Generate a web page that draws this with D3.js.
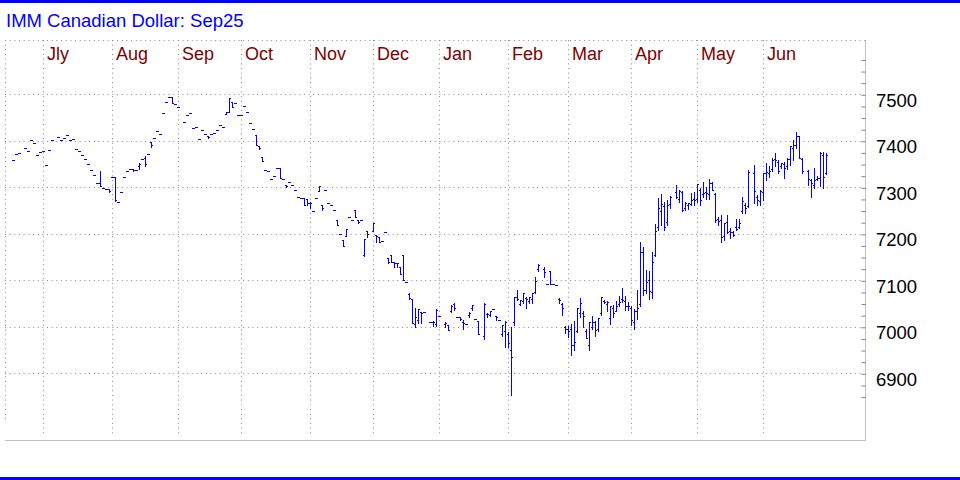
<!DOCTYPE html>
<html><head><meta charset="utf-8">
<script src="https://cdn.jsdelivr.net/npm/d3@7"></script>
<style>body{margin:0;background:#fff}svg{display:block}</style>
</head><body>
<script>
const title = "IMM Canadian Dollar: Sep25";
const startDate = "2024-06-14";   // first weekday shown; one slot per weekday, null = no trading
const monthLabels = ["Jly","Aug","Sep","Oct","Nov","Dec","Jan","Feb","Mar","Apr","May","Jun"];
const priceLabels = [6900,7000,7100,7200,7300,7400,7500];

const opens = [
7358,7371,7374,null,7384,7378,7401,7395,7369,7375,
7378,7347,7380,7401,null,7408,7401,7405,7412,7402,
7403,7382,7378,7369,7360,7350,7337,7326,7309,7309,
7298,7296,7296,7322,7322,7268,7290,7322,7335,7340,
7340,7337,7345,7360,7362,7372,7398,7405,7421,7415,
7459,7483,7494,7494,7479,7472,null,7440,7455,7459,
7427,7429,7403,7423,7415,7411,7415,7416,7423,7433,
7429,7458,7463,7483,7481,7455,7455,7475,7461,7438,
7425,7413,7389,7365,7337,7335,7318,7324,7341,7341,
7318,7306,7311,7305,7294,7279,7277,7277,7274,7267,
7248,7277,7293,7262,7294,7266,7261,7251,7230,7200,
7187,7196,7236,7230,7251,7230,7230,7155,7205,null,
7205,7198,7194,7184,7203,7149,7155,7140,7138,7128,
7155,7097,7070,7060,7005,7015,7032,7031,null,7010,
7010,7005,7024,null,7005,7004,7035,7050,7021,7021,
7010,7006,7025,7040,7017,7012,null,6980,7028,7025,
7038,7024,7015,6985,6990,6985,6950,7010,7065,7050,
7055,7062,7055,7060,7075,7125,null,7125,7093,7120,
7092,7090,7060,7050,7000,6995,6995,6960,6990,7030,
7030,6990,6960,7000,7010,6995,7030,7056,7050,7020,
7040,7035,7050,7060,7055,7045,7040,7010,7035,7050,
7160,7080,7100,7075,7155,7215,7250,7260,7225,7265,
null,7290,7275,7290,7255,7262,7265,7275,7275,7295,
7285,7290,7285,7310,7285,7232,7230,7195,7225,7205,
7203,7215,7215,7250,7262,7260,null,7330,7280,7270,
7290,7330,7330,7340,7360,7355,7345,7350,7345,7360,
7385,7390,7410,7360,null,7335,7315,7305,7318,7320,
7370,7330];

const highs = [
7358,7371,7374,null,7384,7378,7401,7395,7369,7375,
7378,7347,7380,7401,null,7408,7401,7405,7412,7402,
7403,7382,7378,7369,7360,7350,7337,7326,7309,7335,
7298,7296,7296,7322,7322,7268,7290,7322,7335,7340,
7340,7337,7352,7360,7368,7372,7398,7405,7421,7415,
7459,7483,7494,7494,7479,7472,null,7440,7455,7459,
7427,7429,7403,7423,7415,7411,7415,7416,7423,7433,
7429,7461,7491,7483,7481,7455,7455,7475,7461,7438,
7425,7413,7389,7365,7337,7335,7318,7324,7341,7341,
7318,7306,7311,7305,7294,7279,7277,7277,7274,7269,
7248,7277,7303,7262,7294,7266,7261,7251,7230,7200,
7187,7210,7236,7230,7251,7230,7230,7188,7205,null,
7223,7198,7194,7184,7203,7149,7155,7140,7138,7128,
7155,7097,7073,7060,7040,7038,7032,7031,null,7010,
7012,7038,7024,null,7010,7004,7047,7051,7021,7021,
7015,7006,7032,7047,7017,7012,null,7051,7030,7033,
7038,7024,7015,7004,7012,6988,7000,7064,7079,7058,
7073,7065,7065,7073,7108,7135,null,7128,7093,7120,
7092,7090,7062,7052,7002,7002,7006,7013,7040,7062,
7033,6995,7010,7024,7013,7018,7064,7057,7055,7044,
7047,7056,7067,7083,7067,7054,7044,7038,7079,7183,
7172,7122,7121,7161,7222,7276,7285,7269,7273,7281,
null,7305,7294,7293,7268,7267,7287,7290,7308,7298,
7312,7301,7317,7312,7287,7237,7241,7224,7241,7212,
7205,7232,7232,7280,7266,7338,null,7348,7284,7295,
7330,7352,7345,7363,7373,7359,7353,7355,7363,7388,
7401,7420,7411,7363,null,7338,7317,7341,7325,7376,
7375,7373];

const lows = [
7358,7371,7374,null,7384,7378,7401,7395,7369,7375,
7378,7347,7380,7401,null,7408,7401,7405,7412,7402,
7403,7382,7378,7369,7360,7350,7337,7326,7309,7302,
7298,7296,7289,7322,7271,7268,7290,7322,7335,7340,
7334,7337,7339,7360,7345,7372,7387,7405,7421,7415,
7459,7483,7494,7481,7479,7472,null,7440,7455,7459,
7427,7429,7403,7423,7415,7405,7415,7416,7423,7433,
7429,7458,7463,7472,7481,7455,7455,7475,7461,7438,
7425,7391,7382,7357,7337,7335,7318,7324,7341,7321,
7318,7300,7311,7305,7294,7279,7277,7262,7262,7256,
7248,7277,7293,7251,7294,7266,7261,7251,7219,7200,
7173,7196,7236,7230,7236,7224,7230,7153,7194,null,
7205,7182,7182,7184,7203,7138,7140,7128,7128,7113,
7101,7097,7060,7009,7000,7009,7009,7031,null,7010,
7002,7002,7024,null,6999,6994,7032,7037,7021,7015,
6995,7006,7022,7037,7017,6984,null,6973,7021,7024,
7038,7015,7015,6981,6956,6957,6854,7004,7058,7047,
7052,7040,7051,7051,7073,7121,null,7108,7093,7092,
7092,7090,7051,7026,6987,6978,6940,6950,6988,7022,
7000,6976,6950,6995,6981,6992,7025,7051,7033,7006,
7021,7033,7044,7054,7037,7037,7004,6995,7017,7044,
7069,7072,7059,7061,7152,7208,7219,7208,7219,7255,
null,7276,7269,7248,7251,7253,7262,7262,7269,7262,
7280,7274,7274,7294,7226,7219,7182,7187,7202,7191,
7196,7209,7212,7245,7245,7257,null,7266,7262,7262,
7273,7316,7323,7334,7345,7330,7341,7320,7339,7348,
7359,7384,7363,7330,null,7305,7279,7298,7316,7302,
7298,7328];

const closes = [
7358,7371,7374,null,7384,7378,7401,7395,7369,7375,
7378,7347,7380,7401,null,7408,7401,7405,7412,7402,
7403,7382,7378,7369,7360,7350,7337,7326,7309,7302,
7298,7296,7293,7322,7272,7268,7290,7322,7335,7340,
7338,7337,7350,7360,7350,7372,7390,7405,7421,7415,
7459,7483,7494,7481,7479,7472,null,7440,7455,7459,
7427,7429,7403,7423,7415,7408,7415,7416,7423,7433,
7429,7461,7491,7472,7481,7455,7455,7475,7461,7438,
7425,7391,7384,7357,7337,7335,7318,7324,7341,7321,
7318,7303,7311,7305,7294,7279,7277,7262,7267,7267,
7248,7277,7303,7256,7294,7266,7261,7251,7219,7200,
7173,7210,7236,7230,7236,7226,7230,7188,7200,null,
7223,7196,7182,7184,7203,7140,7140,7137,7137,7113,
7101,7097,7063,7009,7021,7038,7030,7031,null,7010,
7010,7037,7024,null,7009,6994,7045,7040,7021,7016,
7008,7006,7030,7047,7017,6984,null,7048,7027,7033,
7038,7021,7015,7004,7010,6965,6936,7064,7060,7058,
7073,7060,7065,7073,7099,7133,null,7117,7093,7092,
7092,7090,7058,7040,6995,6990,6960,6968,7040,7052,
7024,6976,7010,7010,6994,7018,7064,7054,7053,7044,
7030,7045,7054,7058,7044,7044,7015,7035,7040,7160,
7079,7097,7076,7140,7207,7255,7265,7215,7262,7279,
null,7280,7293,7251,7266,7266,7273,7273,7307,7273,
7288,7288,7310,7294,7230,7228,7194,7223,7203,7203,
7197,7210,7223,7270,7255,7332,null,7292,7273,7291,
7330,7332,7334,7358,7358,7334,7352,7341,7360,7388,
7391,7411,7363,7336,null,7317,7309,7315,7320,7373,
7322,7370];

// ---- weekday calendar for the x axis
const n = closes.length;
const start = new Date(startDate + "T00:00:00Z");
const days = d3.utcDay.range(start, d3.utcDay.offset(start, 500))
  .filter(d => d.getUTCDay() > 0 && d.getUTCDay() < 6).slice(0, n);
const bars = days.map((d, i) => ({i, date: d, o: opens[i], h: highs[i], l: lows[i], c: closes[i]}))
  .filter(b => b.c != null);
const monthStarts = [];
days.forEach((d, i) => { if (i > 0 && d.getUTCMonth() !== days[i - 1].getUTCMonth()) monthStarts.push(i); });

const W = 960, H = 480;
const plot = {left: 5, top: 40, right: 865, bottom: 440};
const x = d3.scaleLinear().domain([0, n - 1]).range([13, 13 + 3 * (n - 1)]);
const y = d3.scaleLinear().domain([6900, 7500]).range([373.3, 94.3]);

const svg = d3.select("body").append("svg").attr("width", W).attr("height", H)
  .style("font-family", "'Liberation Sans', Arial, sans-serif");
svg.append("rect").attr("width", W).attr("height", H).attr("fill", "#fff");
svg.append("rect").attr("x", 0).attr("y", 0).attr("width", W).attr("height", 3).attr("fill", "#0000ff");
svg.append("rect").attr("x", 0).attr("y", 477).attr("width", W).attr("height", 3).attr("fill", "#0000ff");
svg.append("text").attr("x", 6).attr("y", 27).attr("fill", "#0000ff").attr("font-size", 18.5).text(title);

const dot = "1,3.67", gridCol = "#888";
// frame (dotted top/left, solid right/bottom)
svg.append("line").attr("x1", plot.left).attr("x2", plot.right).attr("y1", plot.top + 0.5).attr("y2", plot.top + 0.5)
  .attr("stroke", gridCol).attr("stroke-dasharray", dot);
svg.append("line").attr("x1", plot.left + 0.5).attr("x2", plot.left + 0.5).attr("y1", plot.top).attr("y2", 420)
  .attr("stroke", gridCol).attr("stroke-dasharray", dot);
svg.append("line").attr("x1", plot.right + 0.5).attr("x2", plot.right + 0.5).attr("y1", plot.top).attr("y2", plot.bottom + 1)
  .attr("stroke", "#c0c0c0");
svg.append("line").attr("x1", plot.left).attr("x2", plot.right + 1).attr("y1", plot.bottom + 0.5).attr("y2", plot.bottom + 0.5)
  .attr("stroke", "#c0c0c0");

// horizontal grid
svg.append("g").selectAll("line").data(priceLabels).join("line")
  .attr("x1", plot.left).attr("x2", plot.right - 3)
  .attr("y1", v => Math.round(y(v)) + 0.5).attr("y2", v => Math.round(y(v)) + 0.5)
  .attr("stroke", gridCol).attr("stroke-dasharray", dot);
// vertical month grid
const mx = i => Math.round(x(i - 1)) + 0.5;
svg.append("g").selectAll("line").data(monthStarts).join("line")
  .attr("x1", mx).attr("x2", mx).attr("y1", plot.top).attr("y2", plot.bottom - 3)
  .attr("stroke", gridCol).attr("stroke-dasharray", dot);
svg.append("g").selectAll("text").data(monthStarts).join("text")
  .attr("x", i => mx(i) + 3.5).attr("y", 60).attr("fill", "#800000").attr("font-size", 18)
  .text((i, k) => monthLabels[k]);

// right axis: minor ticks every 25, labels every 100
const axis = d3.axisLeft(y).tickValues(d3.range(6850, 7576, 25)).tickSize(4).tickFormat("");
const ag = svg.append("g").attr("transform", `translate(${plot.right + 0.5},0.5)`).call(axis);
ag.select(".domain").remove();
ag.selectAll(".tick line").attr("stroke", "#808080");
svg.append("g").selectAll("text").data(priceLabels).join("text")
  .attr("x", 876).attr("y", v => y(v) + 12.4).attr("fill", "#000").attr("font-size", 18.5)
  .text(d3.format("d"));

// OHLC bars
const blue = "#0000ff";
const g = svg.append("g").attr("fill", blue).attr("shape-rendering", "crispEdges");
const px = b => Math.round(x(b.i));
const py = v => Math.round(y(v));
g.selectAll("rect.v").data(bars).join("rect").attr("class", "v")
  .attr("x", px).attr("y", b => py(b.h)).attr("width", 1).attr("height", b => py(b.l) - py(b.h) + 1);
g.selectAll("rect.o").data(bars).join("rect").attr("class", "o")
  .attr("x", b => px(b) - 1).attr("y", b => py(b.o)).attr("width", 1).attr("height", 1);
g.selectAll("rect.c").data(bars).join("rect").attr("class", "c")
  .attr("x", b => px(b) + 1).attr("y", b => py(b.c)).attr("width", 1).attr("height", 1);
</script>
</body></html>
